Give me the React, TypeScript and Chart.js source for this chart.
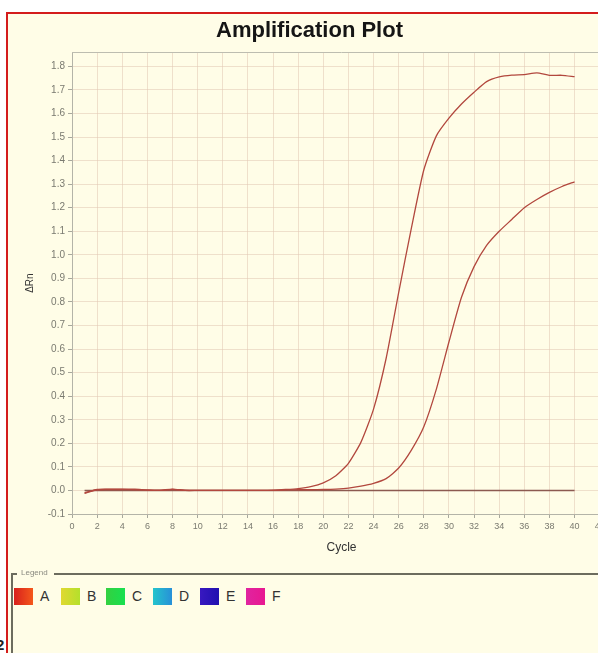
import React, { useEffect, useRef } from "react";
import { Chart, registerables } from "chart.js";

Chart.register(...registerables);

// ---- data ----
const cycles = [1, 2, 3, 4, 5, 6, 7, 8, 9, 10, 11, 12, 13, 14, 15, 16, 17, 18, 19, 20, 21, 22, 23, 24, 25, 26, 27, 28, 29, 30, 31, 32, 33, 34, 35, 36, 37, 38, 39, 40];

const wellEarly = [-0.012, 0.004, 0.005, 0.005, 0.005, 0.002, 0.001, 0.006, 0.001, 0.0, 0.0, 0.0, 0.0, 0.0, 0.0, 0.001, 0.004, 0.008, 0.016, 0.032, 0.062, 0.115, 0.205, 0.345, 0.56, 0.84, 1.11, 1.36, 1.505, 1.58, 1.64, 1.69, 1.735, 1.755, 1.763, 1.765, 1.772, 1.762, 1.762, 1.756];

const wellLate = [-0.01, 0.003, 0.004, 0.004, 0.003, 0.001, 0.0, 0.004, 0.0, 0.0, 0.0, 0.0, 0.0, 0.0, 0.0, 0.0, 0.002, 0.003, 0.003, 0.004, 0.006, 0.01, 0.018, 0.03, 0.05, 0.095, 0.17, 0.27, 0.43, 0.63, 0.82, 0.95, 1.04, 1.1, 1.15, 1.2, 1.235, 1.265, 1.29, 1.31];

const wellFlat = [0.0, 0.0, 0.0, 0.0, 0.0, 0.0, 0.0, 0.0, 0.0, 0.0, 0.0, 0.0, 0.0, 0.0, 0.0, 0.0, 0.0, 0.0, 0.0, 0.0, 0.0, 0.0, 0.0, 0.0, 0.0, 0.0, 0.0, 0.0, 0.0, 0.0, 0.0, 0.0, 0.0, 0.0, 0.0, 0.0, 0.0, 0.0, 0.0, 0.0];

const xTicks = [0, 2, 4, 6, 8, 10, 12, 14, 16, 18, 20, 22, 24, 26, 28, 30, 32, 34, 36, 38, 40, 42];
const yTicks = [-0.1, 0.0, 0.1, 0.2, 0.3, 0.4, 0.5, 0.6, 0.7, 0.8, 0.9, 1.0, 1.1, 1.2, 1.3, 1.4, 1.5, 1.6, 1.7, 1.8];

const legendNames = ["A", "B", "C", "D", "E", "F"];
const legendFills = [
  "linear-gradient(90deg,#d8201c,#f4581c)",
  "linear-gradient(90deg,#e0d830,#b4e02c)",
  "linear-gradient(90deg,#34d040,#18e050)",
  "linear-gradient(90deg,#24c4cc,#2890d8)",
  "linear-gradient(90deg,#3818c0,#2010b0)",
  "linear-gradient(90deg,#e024a0,#e81890)",
];
const legendLeft = [14, 61, 106, 153, 200, 246];

const FONT = '"Liberation Sans Narrow", "Liberation Sans", Arial, sans-serif';
const BG = "#FFFDE7";

export default function App() {
  const ref = useRef<HTMLCanvasElement>(null);

  useEffect(() => {
    document.body.style.margin = "0";
    const plotBorder = {
      id: "plotBorder",
      afterDraw(chart: any) {
        const { ctx, chartArea } = chart;
        ctx.save();
        ctx.strokeStyle = "#bdbdb0";
        ctx.lineWidth = 1;
        ctx.beginPath();
        ctx.moveTo(chartArea.left, Math.round(chartArea.top) + 0.5);
        ctx.lineTo(chartArea.right, Math.round(chartArea.top) + 0.5);
        ctx.stroke();
        ctx.restore();
      },
    };
    const mk = (arr: number[], color: string, w: number) => ({
      data: cycles.map((c, i) => ({ x: c, y: arr[i] })),
      borderColor: color,
      borderWidth: w,
      pointRadius: 0,
      fill: false,
      tension: 0.2,
    });
    const chart = new Chart(ref.current!, {
      type: "line",
      data: {
        datasets: [
          mk(wellEarly, "#b2483e", 1.3),
          mk(wellLate, "#b2483e", 1.3),
          mk(wellFlat, "#8c5a50", 1.6),
        ],
      },
      plugins: [plotBorder],
      options: {
        animation: false,
        responsive: false,
        maintainAspectRatio: false,
        layout: { padding: 0 },
        plugins: {
          legend: { display: false },
          tooltip: { enabled: false },
          title: {
            display: true,
            text: "Amplification Plot",
            color: "#151515",
            font: { family: '"Liberation Sans", Arial, sans-serif', size: 22, weight: "bold", lineHeight: 1.1 },
            padding: { top: 5, bottom: 9 },
          },
        },
        scales: {
          x: {
            type: "linear",
            min: 0,
            max: 42.9,
            afterBuildTicks: (s: any) => {
              s.ticks = xTicks.map((v) => ({ value: v }));
            },
            afterFit: (s: any) => {
              s.height = 56;
            },
            ticks: {
              color: "#7a7a70",
              font: { family: FONT, size: 9 },
              padding: 3,
              maxRotation: 0,
              autoSkip: false,
            },
            grid: {
              color: "rgba(226,200,180,0.55)",
              tickColor: "#a8a89c",
              tickLength: 4,
              lineWidth: 1,
            },
            border: { color: "#b4b4a8", width: 1 },
            title: {
              display: true,
              text: "Cycle",
              color: "#333",
              font: { family: FONT, size: 12 },
              padding: { top: 4, bottom: 15 },
            },
          },
          y: {
            type: "linear",
            min: -0.1,
            max: 1.86,
            afterBuildTicks: (s: any) => {
              s.ticks = yTicks.map((v) => ({ value: v }));
            },
            afterFit: (s: any) => {
              s.width = 64;
            },
            ticks: {
              color: "#7a7a70",
              font: { family: FONT, size: 10 },
              padding: 3,
              callback: (v: any) => Number(v).toFixed(1),
            },
            grid: {
              color: "rgba(226,200,180,0.55)",
              tickColor: "#a8a89c",
              tickLength: 4,
              lineWidth: 1,
            },
            border: { color: "#b4b4a8", width: 1 },
            title: {
              display: true,
              text: "ΔRn",
              color: "#333",
              font: { family: FONT, size: 10 },
              padding: { top: 16, bottom: 0 },
            },
          },
        },
      },
    });
    return () => chart.destroy();
  }, []);

  return (
    <div style={{ position: "relative", width: 598, height: 653, overflow: "hidden", background: "#fff" }}>
      <div
        style={{
          position: "absolute",
          left: 6,
          top: 12,
          width: 640,
          height: 660,
          borderLeft: "2px solid #d41c1c",
          borderTop: "2px solid #d41c1c",
          background: BG,
        }}
      />
      <canvas ref={ref} width={603} height={556} style={{ position: "absolute", left: 8, top: 14 }} />
      {/* legend frame */}
      <div style={{ position: "absolute", left: 11, top: 573, width: 2, height: 90, background: "#6c6c5e" }} />
      <div style={{ position: "absolute", left: 11, top: 573, width: 6, height: 2, background: "#6c6c5e" }} />
      <div style={{ position: "absolute", left: 54, top: 573, width: 560, height: 2, background: "#6c6c5e" }} />
      <div
        style={{
          position: "absolute",
          left: 21,
          top: 568,
          fontFamily: FONT,
          fontSize: 8,
          color: "#8a8a80",
          lineHeight: "10px",
        }}
      >
        Legend
      </div>
      {legendNames.map((n, i) => (
        <React.Fragment key={n}>
          <div
            style={{
              position: "absolute",
              left: legendLeft[i],
              top: 588,
              width: 19,
              height: 17,
              background: legendFills[i],
            }}
          />
          <div
            style={{
              position: "absolute",
              left: legendLeft[i] + 26,
              top: 588,
              fontFamily: '"Liberation Sans", Arial, sans-serif',
              fontSize: 14,
              lineHeight: "17px",
              color: "#333",
            }}
          >
            {n}
          </div>
        </React.Fragment>
      ))}
      <div
        style={{
          position: "absolute",
          left: -4,
          top: 636,
          fontFamily: '"Liberation Sans", Arial, sans-serif',
          fontSize: 15,
          fontWeight: "bold",
          color: "#222",
          lineHeight: "17px",
        }}
      >
        2
      </div>
    </div>
  );
}
